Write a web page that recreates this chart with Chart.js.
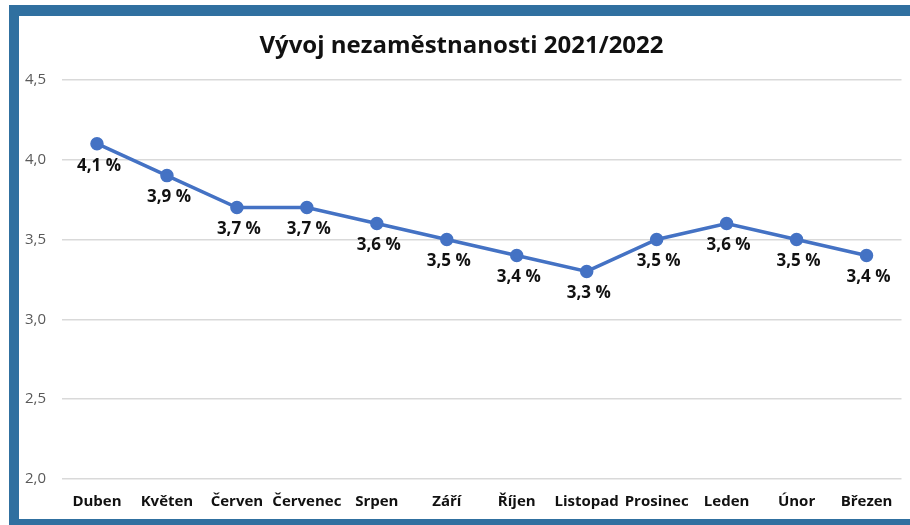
<!DOCTYPE html>
<html lang="cs">
<head>
  <meta charset="UTF-8" />
  <title>Vývoj nezaměstnanosti 2021/2022</title>
  <script src="https://cdn.jsdelivr.net/npm/chart.js@4.4.0/dist/chart.umd.min.js"></script>
  <style>
    * { margin: 0; padding: 0; box-sizing: border-box; }
    html, body { width: 910px; height: 525px; overflow: hidden; background: #fff; }
    .frame {
      position: absolute; left: 9px; top: 5px; width: 930px; height: 524px;
      border-left: 10px solid #3070a0; border-top: 11px solid #3070a0; border-bottom: 10px solid #3070a0;
      background: #fff;
    }
    .box { position: absolute; left: 0; top: 0; width: 891px; height: 503px; }
  </style>
</head>
<body>
  <div class="frame">
    <div class="box"><canvas id="chart"></canvas></div>
  </div>

  <script>
    const months = ["Duben", "Květen", "Červen", "Červenec", "Srpen", "Září", "Říjen", "Listopad", "Prosinec", "Leden", "Únor", "Březen"];
    const unemployment = [4.1, 3.9, 3.7, 3.7, 3.6, 3.5, 3.4, 3.3, 3.5, 3.6, 3.5, 3.4];
    const yMin = 2.0, yMax = 4.5, yStep = 0.5;

    const fmt = v => v.toFixed(1).replace(".", ",");
    const fontFamily = "'Open Sans', 'Noto Sans', sans-serif";

    // labels under each point, like Excel's "below" data labels
    const pointLabels = {
      id: "pointLabels",
      afterDatasetsDraw(chart) {
        const ctx = chart.ctx;
        const meta = chart.getDatasetMeta(0);
        ctx.save();
        ctx.font = "bold 17px " + fontFamily;
        ctx.fillStyle = "#111";
        ctx.textAlign = "center";
        ctx.textBaseline = "middle";
        meta.data.forEach((pt, i) => {
          ctx.fillText(fmt(unemployment[i]) + " %", pt.x + 2, pt.y + 22);
        });
        ctx.restore();
      }
    };

    new Chart(document.getElementById("chart"), {
      type: "line",
      data: {
        labels: months,
        datasets: [{
          data: unemployment,
          borderColor: "#4472c4",
          backgroundColor: "#4472c4",
          borderWidth: 3.5,
          pointRadius: 5,
          pointHoverRadius: 5,
          tension: 0
        }]
      },
      options: {
        responsive: true,
        maintainAspectRatio: false,
        animation: false,
        layout: { padding: { top: 16, right: 6, left: 0, bottom: 0 } },
        plugins: {
          legend: { display: false },
          tooltip: { enabled: false },
          title: {
            display: true,
            text: "Vývoj nezaměstnanosti 2021/2022",
            color: "#111",
            font: { family: fontFamily, size: 24, weight: "bold" },
            padding: { top: 0, bottom: 19 }
          }
        },
        scales: {
          x: {
            offset: true,
            afterFit: s => { s.height = 40; },
            grid: { display: false, drawTicks: false },
            border: { display: false },
            ticks: {
              autoSkip: false,
              maxRotation: 0,
              color: "#111",
              padding: 14,
              font: { family: fontFamily, size: 15, weight: "bold" }
            }
          },
          y: {
            min: yMin,
            max: yMax,
            afterFit: s => { s.width = 43; },
            grid: { color: "#d9d9d9", lineWidth: 1.5, drawTicks: false },
            border: { display: false },
            ticks: {
              stepSize: yStep,
              color: "#595959",
              padding: 16,
              font: { family: fontFamily, size: 15 },
              callback: v => fmt(v)
            }
          }
        }
      },
      plugins: [pointLabels]
    });
  </script>
</body>
</html>
